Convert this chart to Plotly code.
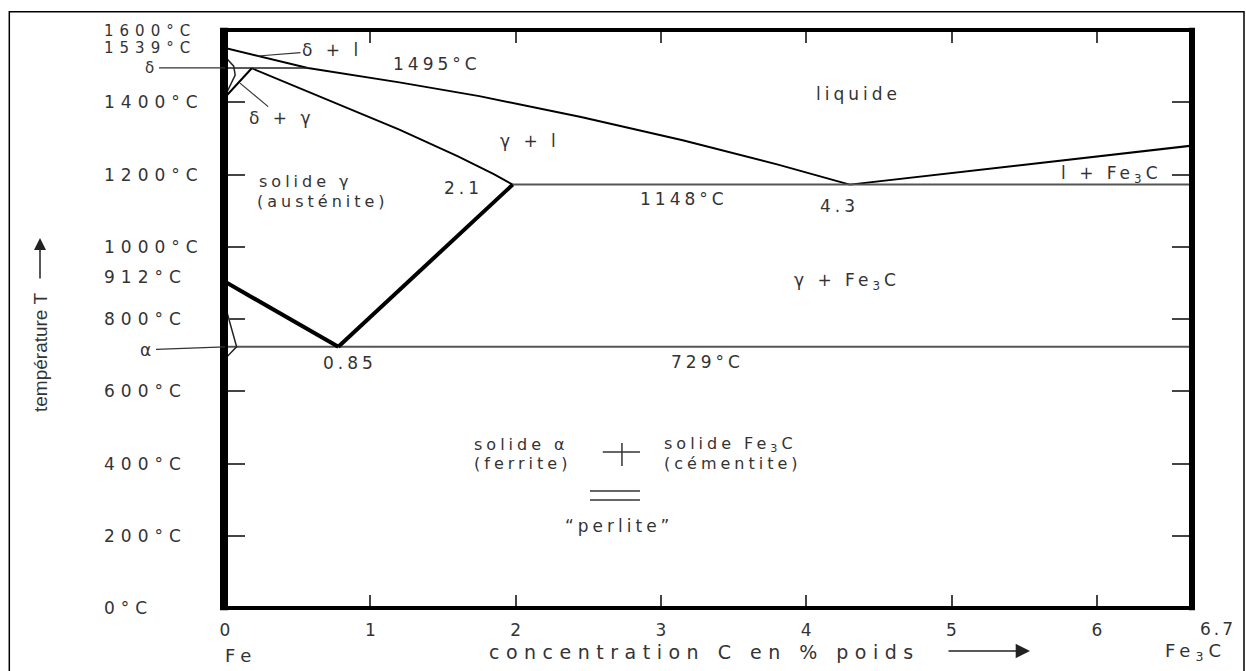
import plotly.graph_objects as go

# ---------------- data ----------------
# liquidus (left branch, through the peritectic point to the eutectic point)
liquidus_x = [0.0, 0.57, 1.2, 1.75, 2.45, 3.15, 3.8, 4.3]
liquidus_T = [1550, 1495, 1455, 1417, 1359, 1295, 1228, 1172]
# liquidus (right branch, towards Fe3C)
liquidus2_x = [4.3, 6.7]
liquidus2_T = [1172, 1282]
# solidus of austenite
solidus_x = [0.184, 0.7, 1.2, 1.6, 1.85, 1.98]
solidus_T = [1494, 1407, 1324, 1251, 1201, 1172]
# peritectic isotherm
peritectic_x = [0.0, 0.57]
peritectic_T = [1495, 1495]
# delta ferrite domain
delta_x = [0.01, 0.06, 0.07, 0.01]
delta_T = [1522, 1500, 1475, 1425]
gamma_delta_x = [0.01, 0.184]
gamma_delta_T = [1418, 1494]
# eutectic isotherm
eutectic_x = [1.98, 6.7]
eutectic_T = [1172, 1172]
# A3 and Acm lines
a3_x = [0.0, 0.78]
a3_T = [903, 723]
acm_x = [0.78, 1.98]
acm_T = [723, 1172]
# eutectoid isotherm
eutectoid_x = [0.0, 6.7]
eutectoid_T = [723, 723]
# alpha ferrite domain
alpha_x = [0.0, 0.08, 0.0]
alpha_T = [838, 723, 690]

# axis ticks
x_ticks = [0, 1, 2, 3, 4, 5, 6]
x_tick_text = ["0", "1", "2", "3", "4", "5", "6"]
y_ticks = [0, 200, 400, 600, 800, 1000, 1200, 1400, 1600]
y_label_pos = [0, 200, 400, 600, 800, 1000, 1200, 1400, 1597, 1550, 917]
y_label_text = ["0°C", "200°C", "400°C", "600°C", "800°C", "1000°C", "1200°C",
                "1400°C", "1600°C", "1539°C", "912°C"]
y_label_size = [17, 17, 17, 17, 17, 17, 17, 17, 15, 15, 17]

# region / point labels: text, x (%C), T (°C), anchor, font size
labels = [
    ("1495°C", 1.46, 1507, "center", 17),
    ("liquide", 4.36, 1423, "center", 17),
    ("γ + l", 2.10, 1293, "center", 17),
    ("solide γ", 0.22, 1180, "left", 16),
    ("(austénite)", 0.206, 1125, "left", 16),
    ("2.1", 1.64, 1163, "center", 17),
    ("1148°C", 3.16, 1132, "center", 17),
    ("4.3", 4.23, 1113, "center", 17),
    ("l + Fe<sub>3</sub>C", 6.10, 1201, "center", 17),
    ("γ + Fe<sub>3</sub>C", 4.28, 905, "center", 17),
    ("0.85", 0.86, 678, "center", 17),
    ("729°C", 3.32, 681, "center", 17),
    ("solide α", 1.70, 453, "left", 16),
    ("(ferrite)", 1.70, 401, "left", 16),
    ("solide Fe<sub>3</sub>C", 3.01, 453, "left", 16),
    ("(cémentite)", 3.01, 401, "left", 16),
    ("\u201cperlite\u201d", 2.71, 227, "center", 17),
]
# labels with leader lines: text, point x, point T, text offset (px), size
leaders = [
    ("δ", 0.0, 1495, -74, 0, 15),
    ("α", 0.0, 723, -78, 3, 17),
    ("δ + l", 0.227, 1528, 74, -6, 17),
    ("δ + γ", 0.103, 1453, 42, 35, 17),
]

# ---------------- figure ----------------
L, R, T_M, B = 225, 54, 30, 63
W, H = 1246 - L - R, 671 - T_M - B
XMAX = W / 145.3

TXT = "#333333"
FONT = "DejaVu Sans"


def sp(t, ls=4):
    return f'<span style="letter-spacing:{ls}px">{t}</span>'


def px_x(p):
    return (p - L) / W


def px_y(p):
    return (608 - p) / H


fig = go.Figure()
lines = [
    (liquidus_x, liquidus_T, 2.0, "black"),
    (liquidus2_x, liquidus2_T, 2.0, "black"),
    (solidus_x, solidus_T, 1.8, "black"),
    (peritectic_x, peritectic_T, 1.5, "#222"),
    (delta_x, delta_T, 1.5, "#222"),
    (gamma_delta_x, gamma_delta_T, 2.0, "black"),
    (eutectic_x, eutectic_T, 2.0, "#555"),
    (eutectoid_x, eutectoid_T, 2.0, "#555"),
    (a3_x, a3_T, 4.0, "black"),
    (acm_x, acm_T, 4.0, "black"),
    (alpha_x, alpha_T, 1.5, "#222"),
]
for xs, ts, w, c in lines:
    fig.add_trace(go.Scatter(x=xs, y=ts, mode="lines",
                             line=dict(color=c, width=w),
                             hoverinfo="skip", showlegend=False))

ann = []
for txt, x, y, anc, fs in labels:
    ann.append(dict(x=x, y=y, xref="x", yref="y", text=sp(txt, 4),
                    showarrow=False, xanchor=anc, yanchor="middle",
                    font=dict(family=FONT, size=fs, color=TXT)))
for txt, x, y, ax, ay, fs in leaders:
    ann.append(dict(x=x, y=y, xref="x", yref="y", text=sp(txt, 4),
                    showarrow=True, arrowhead=0, arrowwidth=1.2, arrowcolor="#333",
                    ax=ax, ay=ay, standoff=0,
                    font=dict(family=FONT, size=fs, color=TXT)))
for pos, txt, fs in zip(y_label_pos, y_label_text, y_label_size):
    ann.append(dict(x=px_x(102), y=pos, xref="paper", yref="y",
                    text=sp(txt, 6), showarrow=False, xanchor="left",
                    yanchor="middle",
                    font=dict(family=FONT, size=fs, color=TXT)))
# 6.7 end label, Fe / Fe3C
ann.append(dict(x=px_x(1218), y=px_y(629), xref="paper", yref="paper",
                text=sp("6.7", 3), showarrow=False, xanchor="center",
                yanchor="middle",
                font=dict(family=FONT, size=17, color=TXT)))
ann.append(dict(x=px_x(223), y=px_y(655), xref="paper", yref="paper",
                text=sp("Fe", 6), showarrow=False, xanchor="left",
                yanchor="middle",
                font=dict(family=FONT, size=18, color=TXT)))
ann.append(dict(x=px_x(1195), y=px_y(652), xref="paper", yref="paper",
                text=sp("Fe<sub>3</sub>C", 5), showarrow=False,
                xanchor="center", yanchor="middle",
                font=dict(family=FONT, size=18, color=TXT)))
# axis titles
ann.append(dict(x=px_x(487), y=px_y(652), xref="paper", yref="paper",
                text=sp("concentration C en % poids", 6.5), showarrow=False,
                xanchor="left", yanchor="middle",
                font=dict(family=FONT, size=19, color=TXT)))
ann.append(dict(x=px_x(1030), y=px_y(651), xref="paper", yref="paper",
                text="", showarrow=True, arrowhead=2, arrowsize=2.2,
                arrowwidth=1.3, arrowcolor="#222", ax=-83, ay=0, standoff=0))
ann.append(dict(x=px_x(40), y=px_y(353), xref="paper", yref="paper",
                text="température T", textangle=-90, showarrow=False,
                xanchor="center", yanchor="middle",
                font=dict(family="Liberation Sans Narrow, Liberation Sans", size=19,
                          color=TXT)))
ann.append(dict(x=px_x(40), y=px_y(238), xref="paper", yref="paper",
                text="", showarrow=True, arrowhead=2, arrowsize=1.6,
                arrowwidth=1.5, arrowcolor="#222", ax=0, ay=42, standoff=0))

shapes = [
    # plot frame
    dict(type="line", xref="paper", yref="paper", x0=-1 / W, x1=-1 / W,
         y0=-0.004, y1=1.004, line=dict(color="black", width=8)),
    dict(type="line", xref="paper", yref="paper", x0=1, x1=1,
         y0=-0.004, y1=1.004, line=dict(color="black", width=6)),
    dict(type="line", xref="paper", yref="paper", x0=-0.004, x1=1.003,
         y0=0, y1=0, line=dict(color="black", width=4)),
    dict(type="line", xref="paper", yref="paper", x0=-0.004, x1=1.003,
         y0=1, y1=1, line=dict(color="black", width=4)),
    # outer frame
    dict(type="rect", xref="paper", yref="paper", x0=px_x(9.3),
         x1=px_x(1244), y0=-0.3, y1=px_y(11.7),
         line=dict(color="black", width=1.5)),
    # "+" and "=" symbols of the perlite note
    dict(type="line", xref="x", yref="y", x0=2.60, x1=2.856, y0=432, y1=432,
         line=dict(color="#333", width=1.5)),
    dict(type="line", xref="x", yref="y", x0=2.732, x1=2.732, y0=393, y1=457,
         line=dict(color="#333", width=1.5)),
    dict(type="line", xref="x", yref="y", x0=2.512, x1=2.856, y0=324, y1=324,
         line=dict(color="#333", width=1.5)),
    dict(type="line", xref="x", yref="y", x0=2.512, x1=2.856, y0=299, y1=299,
         line=dict(color="#333", width=1.5)),
]

fig.update_layout(
    width=1246, height=671,
    margin=dict(l=L, r=R, t=T_M, b=B, pad=0),
    paper_bgcolor="white", plot_bgcolor="white",
    showlegend=False,
    annotations=ann, shapes=shapes,
    xaxis=dict(range=[0, XMAX], tickvals=x_ticks, ticktext=x_tick_text,
               ticks="inside", ticklen=13, tickwidth=1.5, tickcolor="#444",
               mirror="ticks", showline=False, showgrid=False, zeroline=False,
               ticklabelstandoff=10,
               tickfont=dict(family=FONT, size=17, color=TXT)),
    yaxis=dict(range=[0, 1600], tickvals=y_ticks, showticklabels=False,
               ticks="inside", ticklen=20, tickwidth=1.5, tickcolor="#444",
               mirror="ticks", showline=False, showgrid=False, zeroline=False),
)

fig.write_html("out.html")
